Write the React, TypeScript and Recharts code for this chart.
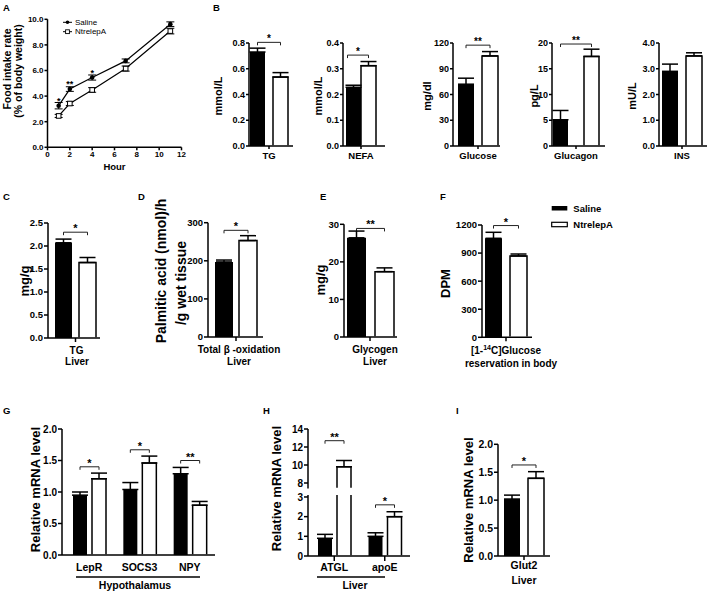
import React from 'react'
import { BarChart, Bar, LineChart, Line, XAxis, YAxis, ErrorBar, Legend } from 'recharts'

const FONT = '"Liberation Sans", Arial, Helvetica, sans-serif'
const W = 708
const H = 591
const INK = '#000'

const groups = ['Saline', 'NtrelepA']

// A - food intake rate (% of body weight) over hours
const hours = [1, 2, 4, 7, 11]
const intakeSaline = [3.25, 4.55, 5.45, 6.75, 9.62]
const intakeSalineSem = [0.25, 0.18, 0.2, 0.15, 0.18]
const intakeNtre = [2.45, 3.42, 4.48, 6.15, 9.08]
const intakeNtreSem = [0.12, 0.15, 0.18, 0.2, 0.22]
const intakeStars = ['*', '**', '*', '', '']
const hourTicks = [0, 2, 4, 6, 8, 10, 12]
const intakeTicks = [0, 2, 4, 6, 8, 10]

// B - serum
const serumNames = ['TG', 'NEFA', 'Glucose', 'Glucagon', 'INS']
const serumUnits = ['mmol/L', 'mmol/L', 'mg/dl', 'pg/L', 'mU/L']
const serumSaline = [0.73, 0.228, 72, 5.1, 2.9]
const serumSalineSem = [0.03, 0.008, 7, 1.8, 0.28]
const serumNtre = [0.535, 0.312, 105, 17.4, 3.5]
const serumNtreSem = [0.035, 0.016, 5, 1.4, 0.12]
const serumStars = ['*', '*', '**', '**', '']
const serumBracket = [0.805, 0.353, 117.5, 19.8, 0]
const serumTicks = [
  [0, 0.2, 0.4, 0.6, 0.8],
  [0, 0.1, 0.2, 0.3, 0.4],
  [0, 30, 60, 90, 120],
  [0, 5, 10, 15, 20],
  [0, 1, 2, 3, 4],
]

// C-F - liver / body
const liverNames = ['TG', 'Total β -oxidation', 'Glycogen', '[1-14C]Glucose']
const liverUnits = [['mg/g'], ['Palmitic acid (nmol)/h', '/g wet tissue'], ['mg/g'], ['DPM']]
const liverSub = ['Liver', 'Liver', 'Liver', 'reservation in body']
const liverSaline = [2.07, 197, 26.4, 1058]
const liverSalineSem = [0.08, 5, 1.8, 64]
const liverNtre = [1.64, 253, 17.4, 869]
const liverNtreSem = [0.11, 13, 1.0, 21]
const liverStars = ['*', '*', '**', '*']
const liverBracket = [2.3, 280, 28.9, 1194]
const liverTicks = [
  [0, 0.5, 1, 1.5, 2, 2.5],
  [0, 100, 200, 300],
  [0, 10, 20, 30],
  [0, 300, 600, 900, 1200],
]

// G - hypothalamus mRNA
const hypoGenes = ['LepR', 'SOCS3', 'NPY']
const hypoSaline = [0.95, 1.04, 1.29]
const hypoSalineSem = [0.05, 0.11, 0.1]
const hypoNtre = [1.21, 1.46, 0.79]
const hypoNtreSem = [0.09, 0.11, 0.06]
const hypoStars = ['*', '*', '**']
const hypoBracket = [1.4, 1.67, 1.5]
const mrnaTicks = [0, 0.5, 1, 1.5, 2]

// H - liver mRNA (broken axis)
const liverGenes = ['ATGL', 'apoE']
const lgSaline = [0.9, 1.0]
const lgSalineSem = [0.2, 0.18]
const lgNtre = [9.8, 2.0]
const lgNtreSem = [0.7, 0.25]
const lgStars = ['**', '*']
const lgBracket = [12.7, 2.6]
const lgUpperTicks = [8, 10, 12, 14]
const lgLowerTicks = [0, 1, 2, 3]
const BREAK_LOW = 3.1
const BREAK_HIGH = 7.4

// I - Glut2
const glutGenes = ['Glut2']
const glutSaline = [1.02]
const glutSalineSem = [0.07]
const glutNtre = [1.39]
const glutNtreSem = [0.12]
const glutStars = ['*']
const glutBracket = [1.63]

type Row = {
  name: string
  saline: number | null
  salineSem: number
  ntre: number | null
  ntreSem: number
  star: string
  bracket: number
}

function makeRows(names: string[], s: number[], sSem: number[], n: number[], nSem: number[], stars: string[], br: number[]): Row[] {
  return names.map((name, i) => ({ name, saline: s[i], salineSem: sSem[i], ntre: n[i], ntreSem: nSem[i], star: stars[i], bracket: br[i] }))
}

type Note = { t: string; x: number; y: number; size: number; rot?: boolean; anchor?: 'start' | 'middle' | 'end'; weight?: number }

function Notes({ items, lines }: { items: Note[]; lines?: number[][] }) {
  return (
    <g>
      {(lines ?? []).map(([x1, y1, x2, y2], i) => (
        <line key={'l' + i} x1={x1} y1={y1} x2={x2} y2={y2} stroke={INK} strokeWidth={1.5} />
      ))}
      {items.map((it, i) => (
        <text
          key={i}
          x={it.x}
          y={it.y}
          transform={it.rot ? `rotate(-90 ${it.x} ${it.y})` : undefined}
          textAnchor={it.anchor ?? 'middle'}
          dominantBaseline="central"
          fontSize={it.size}
          fontWeight={it.weight ?? 700}
          fontFamily={FONT}
          fill={INK}
        >
          {it.t}
        </text>
      ))}
    </g>
  )
}

function CatTick(props: any) {
  const { x, y, payload, size, dx = 0 } = props
  const t = String(payload?.value ?? '')
  const m = t.match(/^(.*?)(\d+)(C\].*)$/)
  return (
    <text x={x + dx} y={y + size * 0.72} textAnchor="middle" fontSize={size} fontWeight={700} fontFamily={FONT} fill={INK}>
      {m ? (
        <>
          {m[1]}
          <tspan dy={-size * 0.4} fontSize={size * 0.7}>{m[2]}</tspan>
          <tspan dy={size * 0.4}>{m[3]}</tspan>
        </>
      ) : (
        t
      )}
    </text>
  )
}

// open-bottomed white bar, plus the significance bracket drawn from its own geometry
function whiteBar(gap: number, lo: number, hi: number, bracketMax: number, starFont: number) {
  return (props: any) => {
    const { x, y, width, height, payload } = props
    if (!payload || payload.ntre == null || !isFinite(y) || !isFinite(height)) return <g />
    const yb = y + height
    const toPix = (v: number) => yb - (height * (v - lo)) / (payload.ntre - lo)
    let body: React.ReactNode
    if (payload.ntre > hi) {
      // value runs past the top of this (lower) axis segment: sides only, open top
      const yt = toPix(hi)
      body = <path d={`M${x},${yb - 0.75}L${x},${yt}M${x + width},${yt}L${x + width},${yb - 0.75}`} fill="none" stroke={INK} strokeWidth={1.5} />
    } else {
      body = <path d={`M${x},${yb - 0.75}L${x},${y}L${x + width},${y}L${x + width},${yb - 0.75}`} fill="#fff" stroke={INK} strokeWidth={1.5} />
    }
    let mark = null
    if (payload.star && payload.bracket >= lo && payload.bracket <= bracketMax) {
      const by = toPix(payload.bracket)
      const c2 = x + width / 2
      const c1 = x - gap - width / 2
      mark = (
        <g>
          <path d={`M${c1},${by + 3}L${c1},${by}L${c2},${by}L${c2},${by + 3}`} fill="none" stroke="#222" strokeWidth={1} />
          <text x={(c1 + c2) / 2} y={by} textAnchor="middle" fontSize={starFont} fontWeight={700} fontFamily={FONT} fill={INK}>
            {payload.star}
          </text>
        </g>
      )
    }
    return (
      <g>
        {body}
        {mark}
      </g>
    )
  }
}

function GroupKey() {
  return (
    <svg width={100} height={32} style={{ display: 'block', overflow: 'visible' }}>
      <rect x={3.7} y={6} width={15.6} height={4.5} fill={INK} />
      <rect x={3.7} y={22.3} width={15.6} height={4.4} fill="#fff" stroke={INK} strokeWidth={1.2} />
      <text x={25.3} y={8.3} dominantBaseline="central" fontSize={9.5} fontWeight={700} fontFamily={FONT}>{groups[0]}</text>
      <text x={25.3} y={24.5} dominantBaseline="central" fontSize={9.5} fontWeight={700} fontFamily={FONT}>{groups[1]}</text>
    </svg>
  )
}

function IntakeKey() {
  return (
    <svg width={62} height={22} style={{ display: 'block', overflow: 'visible' }}>
      <line x1={3} x2={12} y1={6.3} y2={6.3} stroke={INK} strokeWidth={1} />
      <circle cx={7.5} cy={6.3} r={1.8} fill={INK} />
      <text x={15} y={6.3} dominantBaseline="central" fontSize={8} fontFamily={FONT}>{groups[0]}</text>
      <line x1={3} x2={12} y1={15.7} y2={15.7} stroke={INK} strokeWidth={1} />
      <rect x={5.6} y={13.8} width={3.8} height={3.8} fill="#fff" stroke={INK} strokeWidth={0.9} />
      <text x={15} y={15.7} dominantBaseline="central" fontSize={8} fontFamily={FONT}>{groups[1]}</text>
    </svg>
  )
}

type Panel = {
  rows: Row[]
  x0: number
  x1: number
  yTop: number
  yBot: number
  domain: [number, number]
  ticks: number[]
  digits: number
  bar: number
  gap: number
  padL?: number
  padR?: number
  tickFont: number
  catFont: number
  starFont: number
  xTickSize: number
  xTickMargin: number
  yTickSize: number
  tickDx?: number
  hideX?: boolean
  clip?: boolean
  yNotes: Note[]
  xNotes?: Note[]
  xLines?: number[][]
  legend?: boolean
}

const axisStyle = { stroke: INK, strokeWidth: 1.5 }
const abs: React.CSSProperties = { position: 'absolute', left: 0, top: 0 }

// error bars only point upwards; no bar at all when the sem is dropped
const upErr = (key: 'salineSem' | 'ntreSem') => (d: Row) => (d[key] ? [0, d[key]] : null)

function BarPanel({ p }: { p: Panel }) {
  const lo = p.domain[0]
  const hi = p.domain[1]
  return (
    <div style={abs}>
      <BarChart
        width={W}
        height={H}
        data={p.rows}
        margin={{ top: p.yTop, right: W - p.x1, left: 0, bottom: p.hideX ? H - p.yBot : 0 }}
        barSize={p.bar}
        barGap={p.gap}
      >
        <XAxis
          dataKey="name"
          hide={p.hideX}
          height={H - p.yBot}
          interval={0}
          padding={{ left: p.padL ?? 0, right: p.padR ?? 0 }}
          axisLine={axisStyle}
          tickLine={p.xTickSize > 0 ? axisStyle : false}
          tickSize={p.xTickSize}
          tickMargin={p.xTickMargin}
          tick={<CatTick size={p.catFont} dx={p.tickDx ?? 0} />}
          label={<Notes items={p.xNotes ?? []} lines={p.xLines} />}
        />
        <YAxis
          width={p.x0}
          domain={p.domain}
          ticks={p.ticks}
          allowDataOverflow={!!p.clip}
          interval={0}
          axisLine={axisStyle}
          tickLine={axisStyle}
          tickSize={p.yTickSize}
          tickMargin={1}
          tick={{ fill: INK, fontSize: p.tickFont, fontWeight: 700, fontFamily: FONT }}
          tickFormatter={(v: number) => v.toFixed(p.digits)}
          label={<Notes items={p.yNotes} />}
        />
        <Bar dataKey="saline" name={groups[0]} fill={INK} isAnimationActive={false}>
          <ErrorBar dataKey={upErr('salineSem')} width={8} stroke={INK} strokeWidth={1.5} />
        </Bar>
        <Bar
          dataKey="ntre"
          name={groups[1]}
          fill="#fff"
          isAnimationActive={false}
          shape={whiteBar(p.gap, lo, hi, p.clip ? hi : Infinity, p.starFont)}
        >
          <ErrorBar dataKey={upErr('ntreSem')} width={8} stroke={INK} strokeWidth={1.5} />
        </Bar>
        {p.legend && (
          <Legend
            layout="vertical"
            align="center"
            verticalAlign="middle"
            content={<GroupKey />}
            wrapperStyle={{ position: 'absolute', left: 548, top: 200, width: 100, height: 32 }}
          />
        )}
      </BarChart>
    </div>
  )
}

// ----- panel B
const serumGeo = [
  { x0: 249, x1: 293, bar: 15, gap: 8, padL: 0, padR: 4, titleX: 218, digits: 1 },
  { x0: 343, x1: 385, bar: 15, gap: 6, padL: 0, padR: 6, titleX: 318, digits: 1 },
  { x0: 453, x1: 500, bar: 16, gap: 8, padL: 3, padR: 0, titleX: 426.5, digits: 0 },
  { x0: 552, x1: 605, bar: 15, gap: 16, padL: 0, padR: 5, titleX: 533.5, digits: 0 },
  { x0: 659, x1: 707, bar: 16, gap: 8, padL: 0, padR: 2, titleX: 632, digits: 1 },
]

const serumPanels: Panel[] = serumGeo.map((g, i) => ({
  rows: makeRows([serumNames[i]], [serumSaline[i]], [serumSalineSem[i]], [serumNtre[i]], [serumNtreSem[i]], [serumStars[i]], [serumBracket[i]]),
  x0: g.x0,
  x1: g.x1,
  yTop: 43,
  yBot: 146,
  domain: [0, serumTicks[i][serumTicks[i].length - 1]],
  ticks: serumTicks[i],
  digits: g.digits,
  bar: g.bar,
  gap: g.gap,
  padL: g.padL,
  padR: g.padR,
  tickFont: 9,
  catFont: 9.5,
  starFont: 10,
  xTickSize: 3,
  xTickMargin: 3,
  yTickSize: 3,
  yNotes: [
    ...(i === 0 ? [{ t: 'B', x: 213, y: 7, size: 9.5, anchor: 'start' as const }] : []),
    { t: serumUnits[i], x: g.titleX, y: 96, size: 11, rot: true },
  ],
}))

// ----- panels C-F
const liverGeo = [
  { x0: 48, x1: 100, yTop: 223, yBot: 338, bar: 17, gap: 7, padL: 3, padR: 0, dx: 1, digits: 1, letter: 'C', lx: 3, titleX: [24], titleY: [281], titleSize: 13, subX: 77, subY: 361.7 },
  { x0: 208, x1: 263, yTop: 222.7, yBot: 337, bar: 18, gap: 6, padL: 1, padR: 0, dx: 3, digits: 0, letter: 'D', lx: 138, titleX: [161.3, 181.3], titleY: [271, 283], titleSize: 14, subX: 239, subY: 361.7 },
  { x0: 344, x1: 397, yTop: 224.3, yBot: 337, bar: 19, gap: 9, padL: 0, padR: 1, dx: 5, digits: 0, letter: 'E', lx: 320, titleX: [320], titleY: [280], titleSize: 13, subX: 375, subY: 361.7 },
  { x0: 482, x1: 532, yTop: 225, yBot: 337.3, bar: 17, gap: 8, padL: 0, padR: 2, dx: 0, digits: 0, letter: 'F', lx: 440, titleX: [445], titleY: [283.5], titleSize: 13, subX: 511, subY: 363.3 },
]

const liverPanels: Panel[] = liverGeo.map((g, i) => ({
  rows: makeRows([liverNames[i]], [liverSaline[i]], [liverSalineSem[i]], [liverNtre[i]], [liverNtreSem[i]], [liverStars[i]], [liverBracket[i]]),
  x0: g.x0,
  x1: g.x1,
  yTop: g.yTop,
  yBot: g.yBot,
  domain: [0, liverTicks[i][liverTicks[i].length - 1]],
  ticks: liverTicks[i],
  digits: g.digits,
  bar: g.bar,
  gap: g.gap,
  padL: g.padL,
  padR: g.padR,
  tickDx: g.dx,
  tickFont: 9.5,
  catFont: 10,
  starFont: 11,
  xTickSize: 4,
  xTickMargin: 5,
  yTickSize: 4,
  yNotes: [
    { t: g.letter, x: g.lx, y: 196.3, size: 9.5, anchor: 'start' as const },
    ...liverUnits[i].map((u, k) => ({ t: u, x: g.titleX[k], y: g.titleY[k], size: g.titleSize, rot: true })),
  ],
  xNotes: [{ t: liverSub[i], x: g.subX, y: g.subY, size: 10 }],
  legend: i === 3,
}))

// ----- panel G
const hypoPanel: Panel = {
  rows: makeRows(hypoGenes, hypoSaline, hypoSalineSem, hypoNtre, hypoNtreSem, hypoStars, hypoBracket),
  x0: 62,
  x1: 215,
  yTop: 429,
  yBot: 555,
  domain: [0, 2],
  ticks: mrnaTicks,
  digits: 1,
  bar: 14,
  gap: 5,
  padL: 2,
  tickFont: 10,
  catFont: 10.5,
  starFont: 11,
  xTickSize: 0,
  xTickMargin: 8,
  yTickSize: 4,
  yNotes: [
    { t: 'G', x: 3, y: 410, size: 9.5, anchor: 'start' },
    { t: 'Relative mRNA level', x: 35, y: 489.5, size: 13, rot: true },
  ],
  xNotes: [{ t: 'Hypothalamus', x: 135, y: 584.5, size: 10.5 }],
  xLines: [[76, 577, 200, 577]],
}

// ----- panel H (two stacked charts = broken axis)
const lgRows = makeRows(liverGenes, lgSaline, lgSalineSem, lgNtre, lgNtreSem, lgStars, lgBracket)
const keepAbove = (v: number | null) => (v ?? 0) >= BREAK_HIGH
const lgUpperRows: Row[] = lgRows.map((r) => ({
  ...r,
  saline: keepAbove(r.saline) ? r.saline : null,
  salineSem: keepAbove(r.saline) ? r.salineSem : 0,
  ntre: keepAbove(r.ntre) ? r.ntre : null,
  ntreSem: keepAbove(r.ntre) ? r.ntreSem : 0,
}))
const lgLowerRows: Row[] = lgRows.map((r) => ({
  ...r,
  salineSem: (r.saline ?? 0) > BREAK_LOW ? 0 : r.salineSem,
  ntreSem: (r.ntre ?? 0) > BREAK_LOW ? 0 : r.ntreSem,
}))

const lgUpper: Panel = {
  rows: lgUpperRows,
  x0: 308,
  x1: 410,
  yTop: 429,
  yBot: 488.4,
  domain: [BREAK_HIGH, 14],
  ticks: lgUpperTicks,
  digits: 0,
  bar: 14,
  gap: 5,
  padL: 1,
  tickFont: 10,
  catFont: 10.5,
  starFont: 11,
  xTickSize: 0,
  xTickMargin: 0,
  yTickSize: 4,
  hideX: true,
  clip: true,
  yNotes: [
    { t: 'H', x: 263, y: 410, size: 9.5, anchor: 'start' },
    { t: 'Relative mRNA level', x: 276, y: 488.5, size: 13, rot: true },
  ],
}

const lgLower: Panel = {
  rows: lgLowerRows,
  x0: 308,
  x1: 410,
  yTop: 495,
  yBot: 556,
  domain: [0, BREAK_LOW],
  ticks: lgLowerTicks,
  digits: 0,
  bar: 14,
  gap: 5,
  padL: 1,
  tickFont: 10,
  catFont: 10.5,
  starFont: 11,
  xTickSize: 5,
  xTickMargin: 2,
  yTickSize: 4,
  clip: true,
  yNotes: [],
  xNotes: [{ t: 'Liver', x: 355, y: 584.5, size: 10.5 }],
  xLines: [[317, 577, 385, 577]],
}

// ----- panel I
const glutPanel: Panel = {
  rows: makeRows(glutGenes, glutSaline, glutSalineSem, glutNtre, glutNtreSem, glutStars, glutBracket),
  x0: 498,
  x1: 550,
  yTop: 444.3,
  yBot: 556,
  domain: [0, 2],
  ticks: mrnaTicks,
  digits: 1,
  bar: 16,
  gap: 8,
  tickFont: 10.5,
  catFont: 10.5,
  starFont: 11,
  xTickSize: 4,
  xTickMargin: 1.2,
  yTickSize: 4,
  yNotes: [
    { t: 'I', x: 456, y: 410, size: 9.5, anchor: 'start' },
    { t: 'Relative mRNA level', x: 468, y: 500, size: 13, rot: true },
  ],
  xNotes: [{ t: 'Liver', x: 524, y: 580, size: 10.5 }],
}

// ----- panel A
const intakeRows = hours.map((h, i) => ({
  hour: h,
  saline: intakeSaline[i],
  salineSem: intakeSalineSem[i],
  ntre: intakeNtre[i],
  ntreSem: intakeNtreSem[i],
  star: intakeStars[i],
}))

function SalineDot(props: any) {
  const { cx, cy, payload } = props
  if (cx == null || cy == null) return <g />
  return (
    <g>
      <circle cx={cx} cy={cy} r={2.3} fill={INK} />
      {payload?.star ? (
        <text x={cx} y={cy - 2} textAnchor="middle" fontSize={9} fontWeight={700} fontFamily={FONT} fill={INK}>
          {payload.star}
        </text>
      ) : null}
    </g>
  )
}

function NtreDot(props: any) {
  const { cx, cy } = props
  if (cx == null || cy == null) return <g />
  return <rect x={cx - 2.3} y={cy - 2.3} width={4.6} height={4.6} fill="#fff" stroke={INK} strokeWidth={1} />
}

function IntakePanel() {
  const tick8 = { fill: INK, fontSize: 8, fontWeight: 700, fontFamily: FONT }
  return (
    <div style={abs}>
      <LineChart width={W} height={H} data={intakeRows} margin={{ top: 19.3, right: W - 181.5, left: 0, bottom: 0 }}>
        <XAxis
          dataKey="hour"
          type="number"
          domain={[0, 12]}
          ticks={hourTicks}
          interval={0}
          height={H - 147.3}
          axisLine={axisStyle}
          tickLine={axisStyle}
          tickSize={3}
          tickMargin={1.5}
          tick={tick8}
          label={<Notes items={[{ t: 'Hour', x: 114.5, y: 166, size: 9.5 }]} />}
        />
        <YAxis
          width={47.5}
          domain={[0, 10]}
          ticks={intakeTicks}
          interval={0}
          axisLine={axisStyle}
          tickLine={axisStyle}
          tickSize={3}
          tickMargin={1}
          tick={tick8}
          tickFormatter={(v: number) => v.toFixed(1)}
          label={
            <Notes
              items={[
                { t: 'A', x: 3, y: 7, size: 9.5, anchor: 'start' },
                { t: 'Food intake rate', x: 7, y: 69, size: 10.5, rot: true },
                { t: '(% of body weight)', x: 18.3, y: 71, size: 10.5, rot: true },
              ]}
            />
          }
        />
        <Line dataKey="ntre" name={groups[1]} stroke={INK} strokeWidth={1.2} dot={<NtreDot />} isAnimationActive={false}>
          <ErrorBar dataKey="ntreSem" width={4} stroke={INK} strokeWidth={1} direction="y" />
        </Line>
        <Line dataKey="saline" name={groups[0]} stroke={INK} strokeWidth={1.2} dot={<SalineDot />} isAnimationActive={false}>
          <ErrorBar dataKey="salineSem" width={4} stroke={INK} strokeWidth={1} direction="y" />
        </Line>
        <Legend
          layout="vertical"
          align="center"
          verticalAlign="middle"
          content={<IntakeKey />}
          wrapperStyle={{ position: 'absolute', left: 60, top: 16, width: 62, height: 22 }}
        />
      </LineChart>
    </div>
  )
}

export default function App() {
  return (
    <div style={{ position: 'absolute', left: 0, top: 0, width: W, height: H, background: '#fff', overflow: 'hidden', fontFamily: FONT }}>
      <IntakePanel />
      {serumPanels.map((p, i) => (
        <BarPanel key={'b' + i} p={p} />
      ))}
      {liverPanels.map((p, i) => (
        <BarPanel key={'l' + i} p={p} />
      ))}
      <BarPanel p={hypoPanel} />
      <BarPanel p={lgUpper} />
      <BarPanel p={lgLower} />
      <BarPanel p={glutPanel} />
    </div>
  )
}
